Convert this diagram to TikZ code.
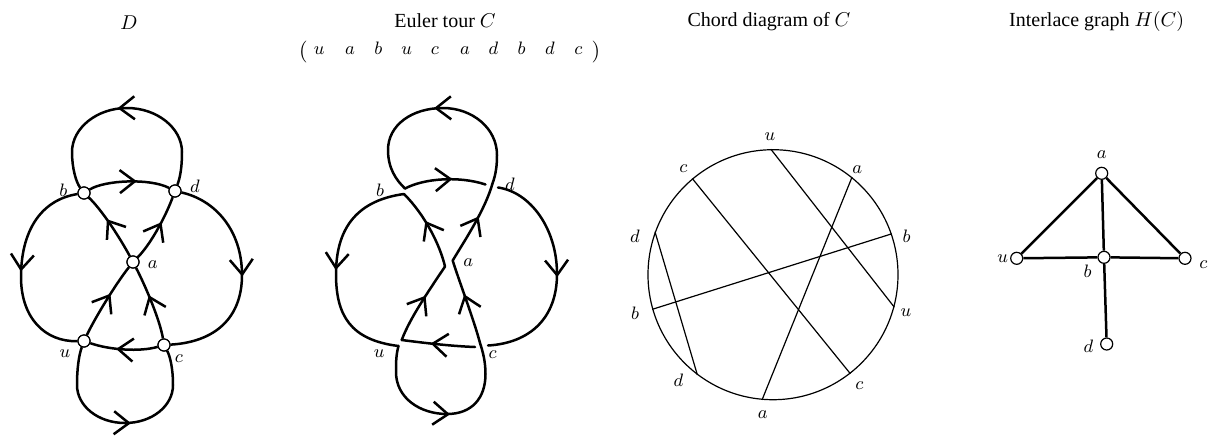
\documentclass[tikz,border=0pt]{standalone}
\usepackage{fontspec}
\setmainfont{Liberation Serif}
\usetikzlibrary{arrows.meta,decorations.markings}
\begin{document}
\begin{tikzpicture}[x=0.5pt,y=-0.5pt,
  vtx/.style={circle,draw,fill=white,line width=0.6pt,inner sep=0pt,minimum size=6pt},
  thk/.style={line width=1.25pt},
  rnd/.style={line width=1.25pt,line cap=round,line join=round},
  marr/.style={postaction={decorate},decoration={markings,mark=at position #1 with {\arrow[xshift=3.8pt]{Straight Barb[length=7.5pt,width=11.5pt]}}}},
  marr/.default=0.5,
  lbl/.style={font=\fontsize{9.5}{11}\selectfont,inner sep=0pt},
  ttl/.style={font=\fontsize{10}{12}\selectfont,anchor=base,inner sep=0pt},
  chord/.style={line width=0.6pt}
]
\useasboundingbox (0,0) rectangle (1211,435);

% ---------- titles ----------
\node[ttl] (t1) at (129,29) {$D$};
\node[ttl] (t2) at (445,27) {Euler tour $C$};
\node[ttl] (t3) at (769,26) {Chord diagram of $C$};
\node[ttl] (t4) at (1096.7,26) {Interlace graph $H(C)$};
\node[inner sep=0pt,font=\fontsize{10.5}{12}\selectfont] (lp) at (303.3,52.5) {$($};
\node[inner sep=0pt,font=\fontsize{10.5}{12}\selectfont] (rp) at (596,52.5) {$)$};
\foreach \x/\l [count=\i] in {319.3/u,350/a,378.3/b,406.7/u,435/c,465/a,493.3/d,521.7/b,550/d,578.3/c}
  \node[lbl,anchor=base] (tup\i) at (\x,54) {$\l$};

% ---------- panel 1: D ----------
\node[vtx] (b) at (84,193) {};
\node[vtx] (d) at (175,191) {};
\node[vtx] (a) at (133,262) {};
\node[vtx] (u) at (84,341) {};
\node[vtx] (c) at (164,345) {};

\draw[thk,marr=0.5] (d) .. controls (180,178) and (182,168) .. (182,152)
   .. controls (182,128) and (157,108) .. (127,108)
   .. controls (97,108) and (72,128) .. (72,152)
   .. controls (72,168) and (76,182) .. (b);
\draw[thk,marr] (b) .. controls (105,180) and (150,178) .. (d);
\draw[thk,marr=0.47] (b) .. controls (40,200) and (21,232) .. (21,277)
   .. controls (21,318) and (45,342) .. (u);
\draw[thk,marr=0.47] (d) .. controls (215,200) and (242,230) .. (242,275)
   .. controls (242,318) and (215,342) .. (c);
\draw[thk,marr=0.5] (u) .. controls (79,355) and (77,368) .. (77,385)
   .. controls (77,406) and (98,423) .. (125,423)
   .. controls (152,423) and (173,406) .. (173,385)
   .. controls (173,368) and (170,356) .. (c);
\draw[thk,marr] (a) .. controls (120,238) and (102,210) .. (b);
\draw[thk,marr] (a) .. controls (150,245) and (165,218) .. (d);
\draw[thk,marr] (u) .. controls (95,318) and (115,285) .. (a);
\draw[thk,marr] (c) .. controls (160,320) and (145,285) .. (a);
\draw[thk,marr] (c) .. controls (140,352) and (110,350) .. (u);

\node[vtx] at (b) {};
\node[vtx] at (d) {};
\node[vtx] at (a) {};
\node[vtx] at (u) {};
\node[vtx] at (c) {};

\node[lbl] (lb) at (63.3,190) {$b$};
\node[lbl] (ld) at (195,186) {$d$};
\node[lbl] (la) at (152.7,265) {$a$};
\node[lbl] (lu) at (65,354) {$u$};
\node[lbl] (lc) at (179,358.3) {$c$};

% ---------- panel 2: Euler tour ----------
\coordinate (p2cu) at (475,347);
\coordinate (p2uc) at (401.7,340);
\coordinate (p2al) at (445,266.5);
\coordinate (p2bl) at (404,194);
\coordinate (p2ul) at (398.5,346);
\coordinate (p2cx) at (480,343);
\coordinate (p2ar) at (452.7,260.5);
\coordinate (p2dx) at (492.5,183.5);
\coordinate (p2bt) at (405,188.5);
\coordinate (p2de) at (485.5,184.5);
\coordinate (p2ds) at (498,187.5);
\coordinate (p2ce) at (488,345.5);

\draw[rnd,marr] (p2cu) .. controls (450,346) and (425,343) .. (p2uc);
\draw[rnd,marr] (p2uc) .. controls (410,318) and (428,292) .. (p2al);
\draw[rnd,marr] (p2al) .. controls (440,245) and (425,215) .. (p2bl);
\draw[rnd,marr=0.47] (p2bl) .. controls (360,200) and (336,225) .. (336,274)
   .. controls (336,315) and (350,340) .. (p2ul);
\draw[rnd,marr=0.49] (p2ul) .. controls (396,355) and (396,363) .. (396,372)
   .. controls (396,398) and (420,414) .. (447,414)
   .. controls (472,414) and (485.5,398) .. (485.5,374)
   .. controls (485.5,362) and (483,352) .. (p2cx);
\draw[rnd,marr] (p2cx) .. controls (474,320) and (458,278) .. (p2ar);
\draw[rnd,marr] (p2ar) .. controls (465,240) and (485,210) .. (p2dx);
\draw[rnd,marr=0.48] (p2dx) .. controls (496,174) and (497,165) .. (497,155)
   .. controls (497,128) and (472,108) .. (443,108)
   .. controls (412,108) and (388,125) .. (388,150)
   .. controls (388,168) and (396,180) .. (p2bt);
\draw[rnd,marr] (p2bt) .. controls (425,178) and (460,176) .. (p2de);
\draw[rnd,marr=0.485] (p2ds) .. controls (530,192) and (557,228) .. (557,274)
   .. controls (557,318) and (530,343) .. (p2ce);

\node[lbl] (l2b) at (380,190) {$b$};
\node[lbl] (l2d) at (510,184) {$d$};
\node[lbl] (l2a) at (468.3,262.7) {$a$};
\node[lbl] (l2u) at (379.3,354) {$u$};
\node[lbl] (l2c) at (492.7,355) {$c$};

% ---------- panel 3: chord diagram ----------
\node[circle,draw,chord,minimum size=125pt,inner sep=0pt] (C) at (773,274.7) {};
\draw[chord] (C.91.8) -- (C.-15.8);
\draw[chord] (C.51.4) -- (C.-95.7);
\draw[chord] (C.19) -- (C.-164.3);
\draw[chord] (C.-52.6) -- (C.130.3);
\draw[chord] (C.-127.7) -- (C.160);

\node[lbl] (cu1) at (770,136.7) {$u$};
\node[lbl] (ca1) at (857.3,169.3) {$a$};
\node[lbl] (cb1) at (906.7,236.7) {$b$};
\node[lbl] (cu2) at (906,312.7) {$u$};
\node[lbl] (cc1) at (859.3,386) {$c$};
\node[lbl] (ca2) at (762.7,415) {$a$};
\node[lbl] (cd1) at (678.3,380) {$d$};
\node[lbl] (cb2) at (635,313.3) {$b$};
\node[lbl] (cd2) at (635,236.7) {$d$};
\node[lbl] (cc2) at (683.3,168.3) {$c$};

% ---------- panel 4: interlace graph ----------
\node[vtx] (ha) at (1101.7,173.3) {};
\node[vtx] (hu) at (1016.7,258.3) {};
\node[vtx] (hb) at (1104,257.3) {};
\node[vtx] (hc) at (1185,258.3) {};
\node[vtx] (hd) at (1106.7,344) {};
\draw[thk] (ha) -- (hu);
\draw[thk] (ha) -- (hb);
\draw[thk] (ha) -- (hc);
\draw[thk] (hu) -- (hb);
\draw[thk] (hb) -- (hc);
\draw[thk] (hb) -- (hd);

\node[lbl] (lha) at (1101.7,155) {$a$};
\node[lbl] (lhu) at (1002.7,258.3) {$u$};
\node[lbl] (lhb) at (1087.7,271.7) {$b$};
\node[lbl] (lhc) at (1203.3,265) {$c$};
\node[lbl] (lhd) at (1088.3,346.7) {$d$};
\end{tikzpicture}
\end{document}
